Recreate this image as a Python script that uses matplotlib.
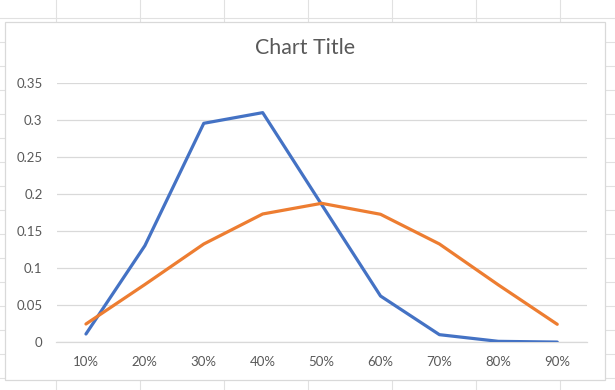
import matplotlib
matplotlib.use("Agg")
import matplotlib.pyplot as plt
from matplotlib.lines import Line2D
from matplotlib.patches import Rectangle

categories = ["10%", "20%", "30%", "40%", "50%", "60%", "70%", "80%", "90%"]
series_blue = [0.0112, 0.1304, 0.2956, 0.3100, 0.1860, 0.0625, 0.0103, 0.0013, 0.0003]
series_orange = [0.0247, 0.0780, 0.1327, 0.1732, 0.1876, 0.1728, 0.1327, 0.0775, 0.0243]
y_ticks = [0, 0.05, 0.1, 0.15, 0.2, 0.25, 0.3, 0.35]
y_tick_labels = ["0", "0.05", "0.1", "0.15", "0.2", "0.25", "0.3", "0.35"]
title = "Chart Title"

plt.rcParams['font.family'] = ['Lato', 'DejaVu Sans']

W, H = 615, 390
fig = plt.figure(figsize=(W / 100, H / 100), dpi=100)
fig.patch.set_facecolor("white")

def fx(px):
    return px / W

def fy(py):
    return 1 - py / H

# spreadsheet grid in the background
sheet_col = "#e1e1e1"
for x in [56, 140, 224, 308, 392, 476, 560]:
    fig.add_artist(Line2D([fx(x), fx(x)], [0, 1], color=sheet_col, lw=0.8, zorder=0))
for k in range(16):
    y = 17.5 + 24 * k
    fig.add_artist(Line2D([0, 1], [fy(y), fy(y)], color=sheet_col, lw=0.8, zorder=0))

# chart area
fig.add_artist(Rectangle((fx(5), fy(380)), fx(605) - fx(5), fy(22) - fy(380),
                         facecolor="white", edgecolor="#d9d9d9", lw=0.9, zorder=1))

ax = fig.add_axes([fx(56.5), fy(342.3), fx(586.7) - fx(56.5), fy(83) - fy(342.3)], zorder=2)
ax.set_facecolor("none")
x = list(range(len(categories)))
ax.plot(x, series_blue, color="#4472C4", lw=2.3, solid_joinstyle="round", solid_capstyle="round", zorder=3)
ax.plot(x, series_orange, color="#ED7D31", lw=2.3, solid_joinstyle="round", solid_capstyle="round", zorder=3)

ax.set_xlim(-0.5, len(categories) - 0.5)
ax.set_ylim(0, 0.35)
ax.set_yticks(y_ticks)
ax.set_yticklabels(y_tick_labels)
ax.set_xticks(x)
ax.set_xticklabels(categories)
ax.grid(axis="y", color="#d9d9d9", lw=0.9)
ax.set_axisbelow(True)
for s in ["top", "right", "left"]:
    ax.spines[s].set_visible(False)
ax.spines["bottom"].set_color("#d9d9d9")
ax.spines["bottom"].set_linewidth(0.9)
ax.tick_params(axis="both", length=0, colors="#595959", labelsize=9.5)
ax.tick_params(axis="y", pad=10)
ax.tick_params(axis="x", pad=10)

fig.text(fx(305), fy(48), title, ha="center", va="center", fontsize=15.4, color="#595959")

fig.savefig("out.png", dpi=100)
